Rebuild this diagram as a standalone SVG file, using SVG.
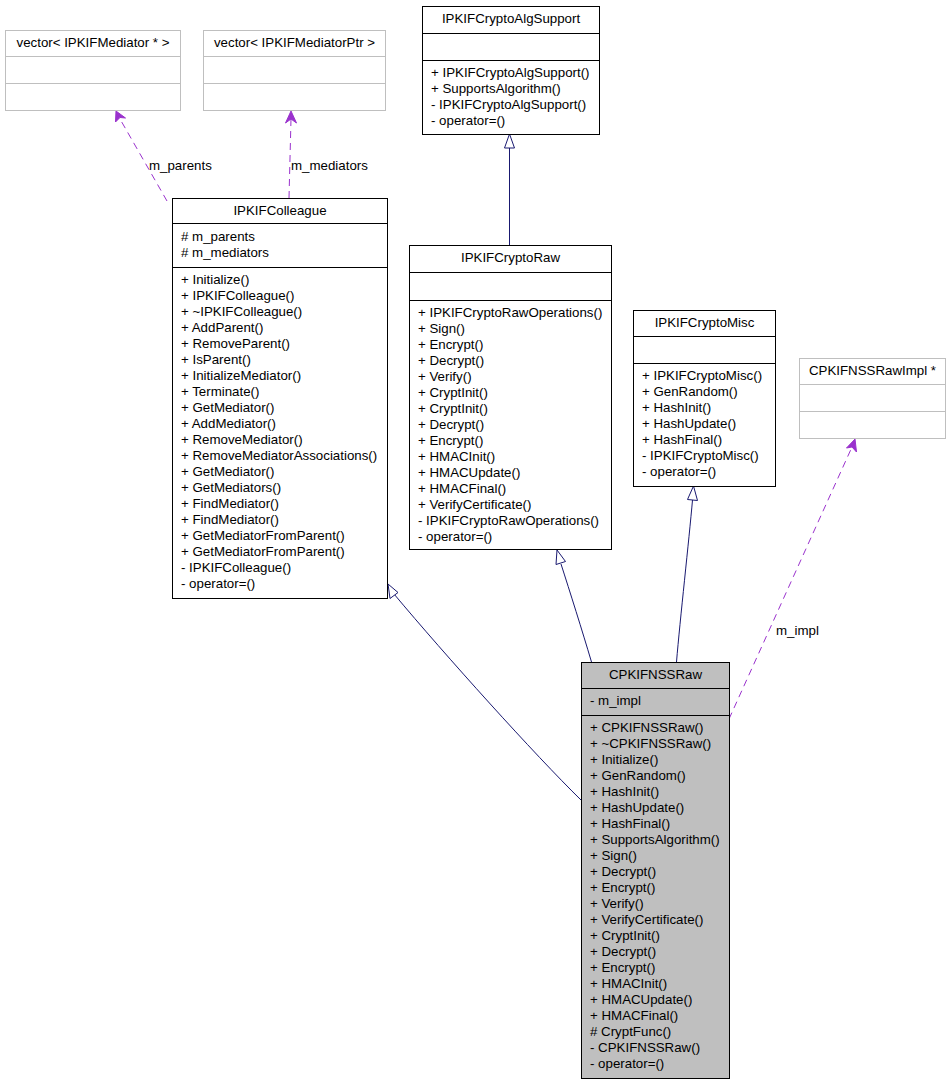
<svg xmlns="http://www.w3.org/2000/svg" width="951" height="1083" viewBox="0 0 951 1083">
<style>
text{font-family:"Liberation Sans",Arial,sans-serif;font-size:13.3px;fill:#000}
.t{text-anchor:middle}
.box{fill:#fff;stroke:#000;stroke-width:1}
.gbox{fill:#fff;stroke:#bfbfbf;stroke-width:1}
.sel{fill:#bfbfbf;stroke:#000;stroke-width:1}
.dv{stroke:#000;stroke-width:1}
.gdv{stroke:#bfbfbf;stroke-width:1}
.inh{fill:none;stroke:#191970;stroke-width:1}
.tri{fill:#fff;stroke:#191970;stroke-width:1}
.use{fill:none;stroke:#9a32cd;stroke-width:1;stroke-dasharray:7,5}
.vee{fill:#9a32cd;stroke:#9a32cd;stroke-width:1}
</style>
<rect width="951" height="1083" fill="#fff"/>
<g id="connectors">
<path class="inh" d="M509.5,245 L509.5,148"/>
<polygon class="tri" points="509.5,134 504.5,148 514.5,148"/>
<path class="inh" d="M581,800 C535,755 445,655 394,594"/>
<polygon class="tri" points="388,584 390,598.5 398,592.5"/>
<path class="inh" d="M591.5,662 C582,630 570,592 561,564"/>
<polygon class="tri" points="557,550 556,564.5 565.5,561.5"/>
<path class="inh" d="M676.5,662 C680,620 689,540 692.5,500"/>
<polygon class="tri" points="693.5,486 687.5,499.5 697.5,500.5"/>
<path class="use" d="M167,201 L120,119"/>
<polygon class="vee" points="116,111 125.5,118 120,117.5 115.5,122"/>
<text x="149" y="170">m_parents</text>
<path class="use" d="M289,198 L291,119"/>
<polygon class="vee" points="291,111 296.5,123 291,119 285.5,123"/>
<text x="291" y="170">m_mediators</text>
<path class="use" d="M729,719 L852,447"/>
<polygon class="vee" points="855,439 856.5,452 852,447 846.5,448"/>
<text x="776" y="635">m_impl</text>
</g>
<g id="vec1">
<rect class="gbox" x="5.5" y="30.5" width="175" height="80"/>
<line class="gdv" x1="5.5" y1="56.5" x2="180.5" y2="56.5"/>
<line class="gdv" x1="5.5" y1="83.5" x2="180.5" y2="83.5"/>
<text class="t" x="93" y="47">vector&lt; IPKIFMediator * &gt;</text>
</g>
<g id="vec2">
<rect class="gbox" x="203.5" y="30.5" width="182" height="80"/>
<line class="gdv" x1="203.5" y1="56.5" x2="385.5" y2="56.5"/>
<line class="gdv" x1="203.5" y1="83.5" x2="385.5" y2="83.5"/>
<text class="t" x="294.5" y="47">vector&lt; IPKIFMediatorPtr &gt;</text>
</g>
<g id="algsupport">
<rect class="box" x="422.5" y="6.5" width="177" height="128"/>
<line class="dv" x1="422.5" y1="33.5" x2="599.5" y2="33.5"/>
<line class="dv" x1="422.5" y1="60.5" x2="599.5" y2="60.5"/>
<text class="t" x="511" y="23">IPKIFCryptoAlgSupport</text>
<text x="431" y="77"><tspan x="431" dy="0">+ IPKIFCryptoAlgSupport()</tspan><tspan x="431" dy="16">+ SupportsAlgorithm()</tspan><tspan x="431" dy="16">- IPKIFCryptoAlgSupport()</tspan><tspan x="431" dy="16">- operator=()</tspan></text>
</g>
<g id="colleague">
<rect class="box" x="172.5" y="198.5" width="215" height="400"/>
<line class="dv" x1="172.5" y1="223.5" x2="387.5" y2="223.5"/>
<line class="dv" x1="172.5" y1="267.5" x2="387.5" y2="267.5"/>
<text class="t" x="280" y="215">IPKIFColleague</text>
<text x="181" y="241"><tspan x="181" dy="0"># m_parents</tspan><tspan x="181" dy="16"># m_mediators</tspan></text>
<text x="181" y="284"><tspan x="181" dy="0">+ Initialize()</tspan><tspan x="181" dy="16">+ IPKIFColleague()</tspan><tspan x="181" dy="16">+ ~IPKIFColleague()</tspan><tspan x="181" dy="16">+ AddParent()</tspan><tspan x="181" dy="16">+ RemoveParent()</tspan><tspan x="181" dy="16">+ IsParent()</tspan><tspan x="181" dy="16">+ InitializeMediator()</tspan><tspan x="181" dy="16">+ Terminate()</tspan><tspan x="181" dy="16">+ GetMediator()</tspan><tspan x="181" dy="16">+ AddMediator()</tspan><tspan x="181" dy="16">+ RemoveMediator()</tspan><tspan x="181" dy="16">+ RemoveMediatorAssociations()</tspan><tspan x="181" dy="16">+ GetMediator()</tspan><tspan x="181" dy="16">+ GetMediators()</tspan><tspan x="181" dy="16">+ FindMediator()</tspan><tspan x="181" dy="16">+ FindMediator()</tspan><tspan x="181" dy="16">+ GetMediatorFromParent()</tspan><tspan x="181" dy="16">+ GetMediatorFromParent()</tspan><tspan x="181" dy="16">- IPKIFColleague()</tspan><tspan x="181" dy="16">- operator=()</tspan></text>
</g>
<g id="cryptoraw">
<rect class="box" x="409.5" y="245.5" width="202" height="304"/>
<line class="dv" x1="409.5" y1="272.5" x2="611.5" y2="272.5"/>
<line class="dv" x1="409.5" y1="300.5" x2="611.5" y2="300.5"/>
<text class="t" x="510.5" y="262">IPKIFCryptoRaw</text>
<text x="418" y="317"><tspan x="418" dy="0">+ IPKIFCryptoRawOperations()</tspan><tspan x="418" dy="16">+ Sign()</tspan><tspan x="418" dy="16">+ Encrypt()</tspan><tspan x="418" dy="16">+ Decrypt()</tspan><tspan x="418" dy="16">+ Verify()</tspan><tspan x="418" dy="16">+ CryptInit()</tspan><tspan x="418" dy="16">+ CryptInit()</tspan><tspan x="418" dy="16">+ Decrypt()</tspan><tspan x="418" dy="16">+ Encrypt()</tspan><tspan x="418" dy="16">+ HMACInit()</tspan><tspan x="418" dy="16">+ HMACUpdate()</tspan><tspan x="418" dy="16">+ HMACFinal()</tspan><tspan x="418" dy="16">+ VerifyCertificate()</tspan><tspan x="418" dy="16">- IPKIFCryptoRawOperations()</tspan><tspan x="418" dy="16">- operator=()</tspan></text>
</g>
<g id="cryptomisc">
<rect class="box" x="633.5" y="310.5" width="142" height="176"/>
<line class="dv" x1="633.5" y1="336.5" x2="775.5" y2="336.5"/>
<line class="dv" x1="633.5" y1="363.5" x2="775.5" y2="363.5"/>
<text class="t" x="704.5" y="327">IPKIFCryptoMisc</text>
<text x="642" y="380"><tspan x="642" dy="0">+ IPKIFCryptoMisc()</tspan><tspan x="642" dy="16">+ GenRandom()</tspan><tspan x="642" dy="16">+ HashInit()</tspan><tspan x="642" dy="16">+ HashUpdate()</tspan><tspan x="642" dy="16">+ HashFinal()</tspan><tspan x="642" dy="16">- IPKIFCryptoMisc()</tspan><tspan x="642" dy="16">- operator=()</tspan></text>
</g>
<g id="rawimpl">
<rect class="gbox" x="799.5" y="358.5" width="146" height="80"/>
<line class="gdv" x1="799.5" y1="384.5" x2="945.5" y2="384.5"/>
<line class="gdv" x1="799.5" y1="411.5" x2="945.5" y2="411.5"/>
<text class="t" x="872.5" y="375">CPKIFNSSRawImpl *</text>
</g>
<g id="nssraw">
<rect class="sel" x="581.5" y="662.5" width="148" height="416"/>
<line class="dv" x1="581.5" y1="688.5" x2="729.5" y2="688.5"/>
<line class="dv" x1="581.5" y1="715.5" x2="729.5" y2="715.5"/>
<text class="t" x="655.5" y="679">CPKIFNSSRaw</text>
<text x="590" y="705">- m_impl</text>
<text x="590" y="732"><tspan x="590" dy="0">+ CPKIFNSSRaw()</tspan><tspan x="590" dy="16">+ ~CPKIFNSSRaw()</tspan><tspan x="590" dy="16">+ Initialize()</tspan><tspan x="590" dy="16">+ GenRandom()</tspan><tspan x="590" dy="16">+ HashInit()</tspan><tspan x="590" dy="16">+ HashUpdate()</tspan><tspan x="590" dy="16">+ HashFinal()</tspan><tspan x="590" dy="16">+ SupportsAlgorithm()</tspan><tspan x="590" dy="16">+ Sign()</tspan><tspan x="590" dy="16">+ Decrypt()</tspan><tspan x="590" dy="16">+ Encrypt()</tspan><tspan x="590" dy="16">+ Verify()</tspan><tspan x="590" dy="16">+ VerifyCertificate()</tspan><tspan x="590" dy="16">+ CryptInit()</tspan><tspan x="590" dy="16">+ Decrypt()</tspan><tspan x="590" dy="16">+ Encrypt()</tspan><tspan x="590" dy="16">+ HMACInit()</tspan><tspan x="590" dy="16">+ HMACUpdate()</tspan><tspan x="590" dy="16">+ HMACFinal()</tspan><tspan x="590" dy="16"># CryptFunc()</tspan><tspan x="590" dy="16">- CPKIFNSSRaw()</tspan><tspan x="590" dy="16">- operator=()</tspan></text>
</g>
</svg>
